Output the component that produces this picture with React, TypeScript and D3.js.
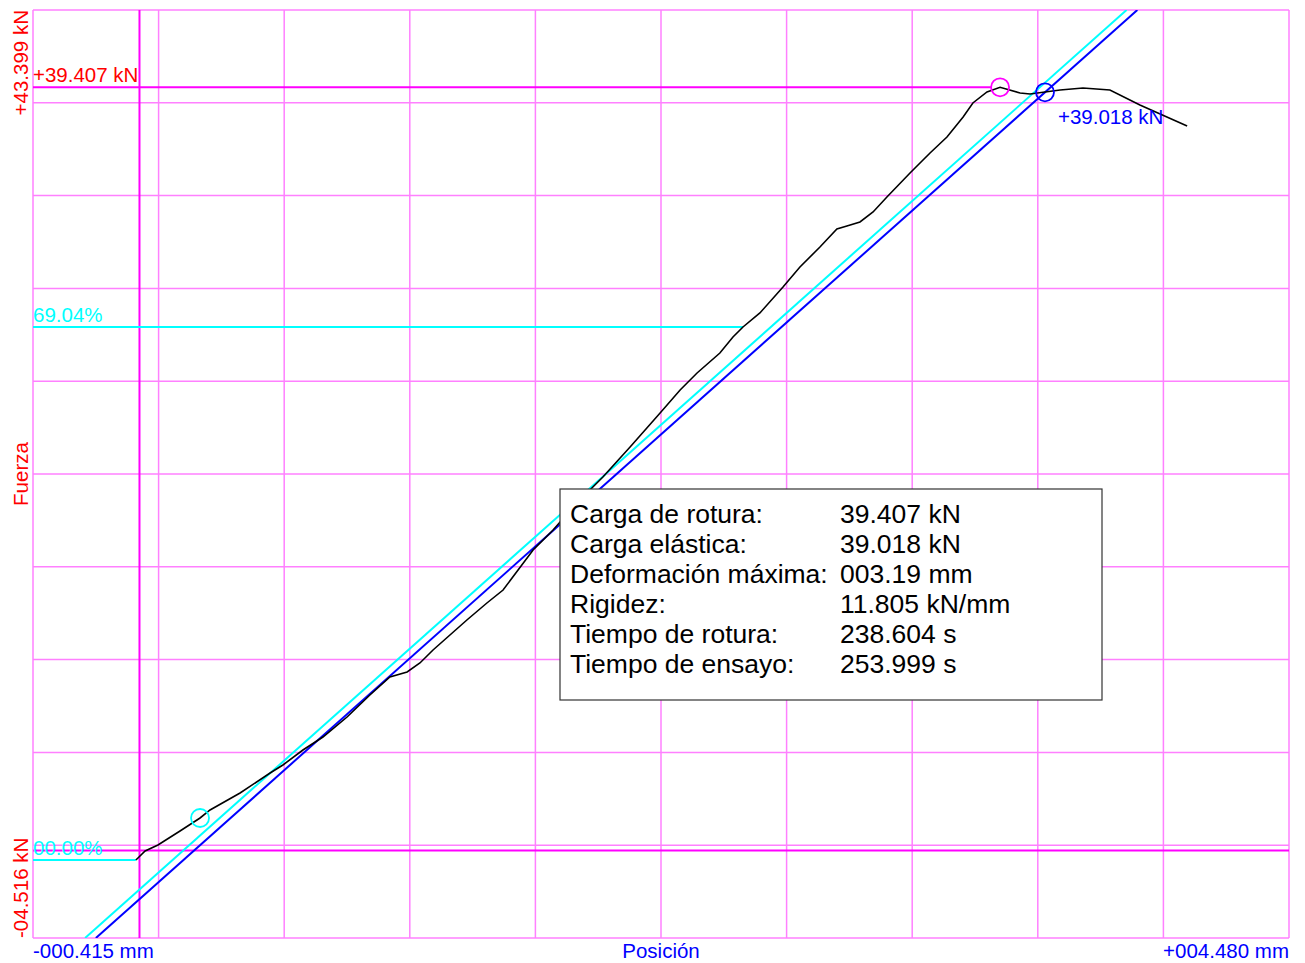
import React from "react";
import * as d3 from "d3";

// Axis extents (as printed on the chart)
const xMin = -0.415; // mm
const xMax = 4.48; // mm
const yMin = -4.516; // kN
const yMax = 43.399; // kN
const gridDivisions = 10;

// Force–position curve (mm, kN)
const curveX = [
  -0.014, -0.002, 0.022, 0.072, 0.158, 0.236, 0.275, 0.392, 0.509, 0.559, 0.637, 0.715, 0.809, 0.898,
  0.976, 1.043, 1.093, 1.144, 1.276, 1.354, 1.417, 1.534, 1.612, 1.697, 1.806, 1.912, 2.029, 2.107,
  2.173, 2.262, 2.313, 2.352, 2.418, 2.508, 2.574, 2.652, 2.718, 2.757, 2.808, 2.859, 2.913, 3.003,
  3.081, 3.147, 3.21, 3.248, 3.303, 3.354, 3.432, 3.471, 3.529, 3.588, 3.677, 3.782, 3.899, 4.083,
];
const curveY = [
  -0.489, -0.334, -0.024, 0.286, 1.009, 1.68, 2.093, 2.971, 4.003, 4.417, 5.191, 5.862, 6.895, 8.031,
  8.96, 9.218, 9.683, 10.354, 11.903, 12.781, 13.452, 15.518, 16.55, 17.841, 19.287, 20.836, 22.591,
  23.779, 24.657, 25.689, 26.515, 27.032, 27.755, 29.097, 30.13, 31.162, 32.092, 32.247, 32.453, 32.97,
  33.744, 34.983, 36.016, 36.842, 37.875, 38.598, 39.166, 39.407, 39.114, 39.063, 39.166, 39.269,
  39.372, 39.269, 38.494, 37.41,
];

// Key points
const maxPoint = { x: 3.354, y: 39.407, label: "+39.407 kN" };
const elasticPoint = { x: 3.529, y: 39.15, label: "+39.018 kN" };
const startPoint = { x: 0.236, y: 1.68 };

// Stiffness lines (kN/mm) – blue through the elastic point, cyan parallel offset
const stiffness = 11.805;
const blueAnchor = { x: 3.529, y: 39.15 };
const cyanAnchor = { x: -0.212, y: -4.516 };

// Percentage reference levels
const pctLabels = ["00.00%", "69.04%"];
const pctForces = [-0.489, 27.032];
const pctEndX = [-0.014, 2.352];

// Info box rows
const infoLabels = [
  "Carga de rotura:",
  "Carga elástica:",
  "Deformación máxima:",
  "Rigidez:",
  "Tiempo de rotura:",
  "Tiempo de ensayo:",
];
const infoValues = ["39.407 kN", "39.018 kN", "003.19 mm", "11.805 kN/mm", "238.604 s", "253.999 s"];

const xLabelLeft = "-000.415 mm";
const xLabelRight = "+004.480 mm";
const xTitle = "Posición";
const yLabelTop = "+43.399 kN";
const yLabelBottom = "-04.516 kN";
const yTitle = "Fuerza";

const W = 1305;
const H = 963;
const L = 33;
const R = 1289;
const T = 10;
const B = 938;

const FONT = "'Liberation Sans', Arial, Helvetica, sans-serif";
const GRID = "#ff80ff";
const STRONG = "#ff00ff";
const CYAN = "#00ffff";
const BLUE = "#0000ff";
const RED = "#ff0000";
const FS = 20.5;
const BOX_FS = 26.5;

export default function App() {
  const x = d3.scaleLinear().domain([xMin, xMax]).range([L, R]);
  const y = d3.scaleLinear().domain([yMin, yMax]).range([B, T]);

  const xGrid = d3.range(gridDivisions + 1).map((i) => xMin + (i * (xMax - xMin)) / gridDivisions);
  const yGrid = d3.range(gridDivisions + 1).map((i) => yMin + (i * (yMax - yMin)) / gridDivisions);

  const pts: [number, number][] = curveX.map((v, i) => [v, curveY[i]]);
  const line = d3
    .line<[number, number]>()
    .x((d) => x(d[0]))
    .y((d) => y(d[1]));

  const lineThrough = (a: { x: number; y: number }) => {
    const x0 = a.x + (yMin - a.y) / stiffness;
    const x1 = a.x + (yMax - a.y) / stiffness;
    return { x1: x(x0), y1: y(yMin), x2: x(x1), y2: y(yMax) };
  };
  const blue = lineThrough(blueAnchor);
  const cyan = lineThrough(cyanAnchor);

  const boxX = 560;
  const boxY = 489;
  const boxW = 542;
  const boxH = 211;

  return (
    <svg
      width={W}
      height={H}
      style={{ position: "absolute", left: 0, top: 0, background: "#fff" }}
      fontFamily={FONT}
    >
      <defs>
        <clipPath id="plot">
          <rect x={L} y={T} width={R - L} height={B - T} />
        </clipPath>
      </defs>
      <rect x={0} y={0} width={W} height={H} fill="#fff" />
      {/* grid */}
      {xGrid.map((v, i) => (
        <line key={"gx" + i} x1={x(v)} x2={x(v)} y1={T} y2={B} stroke={GRID} strokeWidth={1.5} />
      ))}
      {yGrid.map((v, i) => (
        <line key={"gy" + i} x1={L} x2={R} y1={y(v)} y2={y(v)} stroke={GRID} strokeWidth={1.5} />
      ))}
      {/* zero lines */}
      <line x1={x(0)} x2={x(0)} y1={T} y2={B} stroke={STRONG} strokeWidth={2} />
      <line x1={L} x2={R} y1={y(0)} y2={y(0)} stroke={STRONG} strokeWidth={2} />
      {/* max line */}
      <line x1={L} x2={x(maxPoint.x) - 9} y1={y(maxPoint.y)} y2={y(maxPoint.y)} stroke={STRONG} strokeWidth={2} />

      {/* percentage levels */}
      {pctForces.map((f, i) => (
        <g key={"p" + i}>
          <line x1={L} x2={x(pctEndX[i])} y1={y(f)} y2={y(f)} stroke={CYAN} strokeWidth={2} />
          <text x={L} y={y(f) - 5} fill={CYAN} fontSize={FS}>
            {pctLabels[i]}
          </text>
        </g>
      ))}

      <g clipPath="url(#plot)">
        <line {...cyan} stroke={CYAN} strokeWidth={2} />
        <line {...blue} stroke={BLUE} strokeWidth={2} />
        <path d={line(pts) || ""} fill="none" stroke="#000" strokeWidth={1.6} />
      </g>

      {/* markers */}
      <circle cx={x(startPoint.x)} cy={y(startPoint.y)} r={9} fill="none" stroke={CYAN} strokeWidth={1.8} />
      <circle cx={x(maxPoint.x)} cy={y(maxPoint.y)} r={9} fill="none" stroke={STRONG} strokeWidth={1.8} />
      <circle cx={x(elasticPoint.x)} cy={y(elasticPoint.y)} r={9} fill="none" stroke={BLUE} strokeWidth={1.8} />

      <text x={L} y={y(maxPoint.y) - 5} fill={RED} fontSize={FS}>
        {maxPoint.label}
      </text>
      <text x={x(elasticPoint.x) + 13} y={y(elasticPoint.y) + 32} fill={BLUE} fontSize={FS}>
        {elasticPoint.label}
      </text>

      {/* info box */}
      <rect x={boxX} y={boxY} width={boxW} height={boxH} fill="#fff" stroke="#333" strokeWidth={1.2} />
      {infoLabels.map((lab, i) => (
        <g key={"i" + i}>
          <text x={boxX + 10} y={boxY + 34 + i * 30} fontSize={BOX_FS} fill="#000">
            {lab}
          </text>
          <text x={boxX + 280} y={boxY + 34 + i * 30} fontSize={BOX_FS} fill="#000">
            {infoValues[i]}
          </text>
        </g>
      ))}

      {/* x labels */}
      <text x={L} y={958} fill={BLUE} fontSize={FS}>
        {xLabelLeft}
      </text>
      <text x={(L + R) / 2} y={958} fill={BLUE} fontSize={FS} textAnchor="middle">
        {xTitle}
      </text>
      <text x={R} y={958} fill={BLUE} fontSize={FS} textAnchor="end">
        {xLabelRight}
      </text>

      {/* y labels */}
      <text transform={`translate(28,${T}) rotate(-90)`} fill={RED} fontSize={FS} textAnchor="end">
        {yLabelTop}
      </text>
      <text transform={`translate(28,${B}) rotate(-90)`} fill={RED} fontSize={FS} textAnchor="start">
        {yLabelBottom}
      </text>
      <text transform={`translate(28,${(T + B) / 2}) rotate(-90)`} fill={RED} fontSize={FS} textAnchor="middle">
        {yTitle}
      </text>
    </svg>
  );
}
